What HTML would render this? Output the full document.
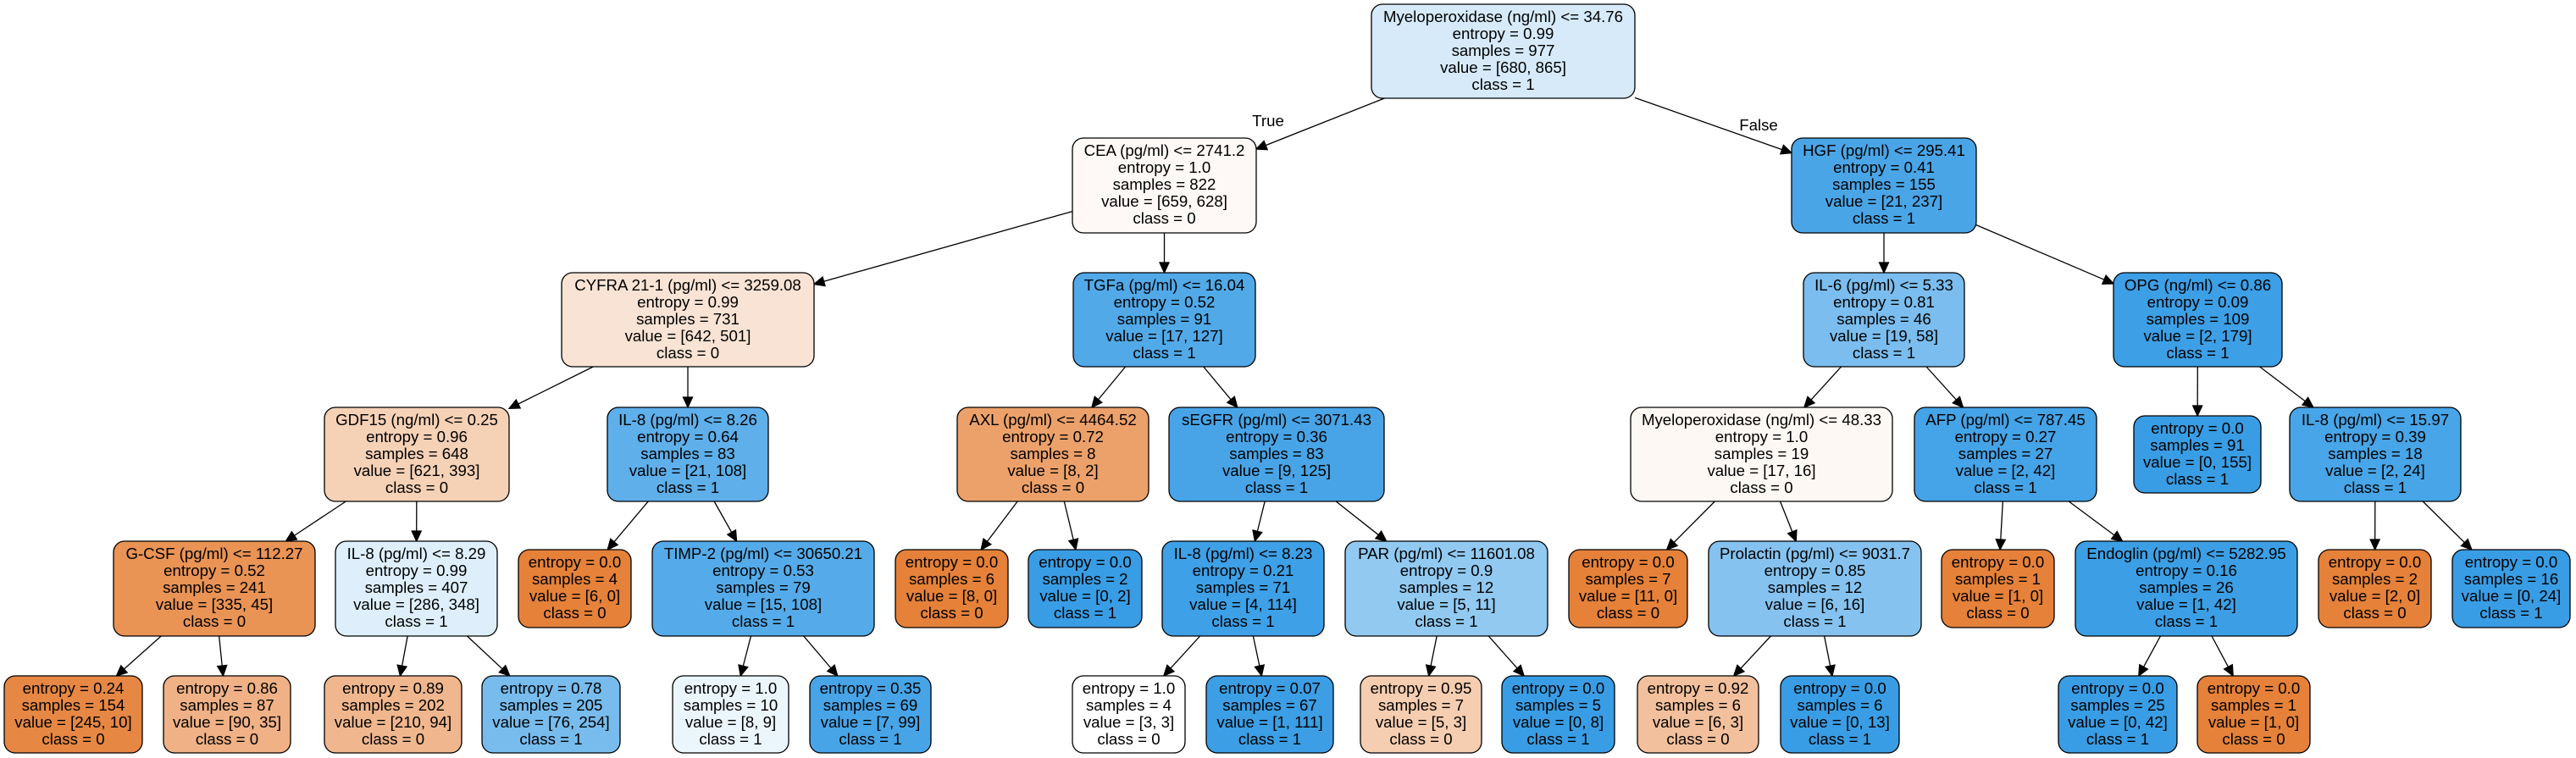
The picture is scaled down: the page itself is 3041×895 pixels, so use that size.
<!DOCTYPE html>
<html><head><meta charset="utf-8"><style>
html,body{margin:0;padding:0;background:#fff;}
svg{display:block;}
text{font-family:"Liberation Sans",Arial,sans-serif;font-size:18.67px;fill:#000;text-anchor:middle;}
rect{stroke:#000;stroke-width:1.3;}
</style></head><body>
<svg id="s" width="3041" height="895" viewBox="0 0 3041 895" xmlns="http://www.w3.org/2000/svg">
<g id="edges" stroke="#000" stroke-width="1.3" fill="#000"></g>
<g id="nodes"></g>
<text x="1497" y="149">True</text>
<text x="2076" y="154">False</text>
</svg>
<script>
var N=[
[1619,1930,5,116,"#d6eaf9",["Myeloperoxidase (ng/ml) <= 34.76","entropy = 0.99","samples = 977","value = [680, 865]","class = 1"],-1],
[1266,1483,163,275,"#fef9f6",["CEA (pg/ml) <= 2741.2","entropy = 1.0","samples = 822","value = [659, 628]","class = 0"],0],
[2115,2333,163,275,"#4aa5e7",["HGF (pg/ml) <= 295.41","entropy = 0.41","samples = 155","value = [21, 237]","class = 1"],0],
[663,961,322,433,"#f8e3d4",["CYFRA 21-1 (pg/ml) <= 3259.08","entropy = 0.99","samples = 731","value = [642, 501]","class = 0"],1],
[1267,1482,322,433,"#51a9e8",["TGFa (pg/ml) <= 16.04","entropy = 0.52","samples = 91","value = [17, 127]","class = 1"],1],
[2129,2319,322,433,"#7bbdee",["IL-6 (pg/ml) <= 5.33","entropy = 0.81","samples = 46","value = [19, 58]","class = 1"],2],
[2495,2694,322,433,"#3d9fe6",["OPG (ng/ml) <= 0.86","entropy = 0.09","samples = 109","value = [2, 179]","class = 1"],2],
[383,601,481,592,"#f5d1b6",["GDF15 (ng/ml) <= 0.25","entropy = 0.96","samples = 648","value = [621, 393]","class = 0"],3],
[717,907,481,592,"#5eafea",["IL-8 (pg/ml) <= 8.26","entropy = 0.64","samples = 83","value = [21, 108]","class = 1"],3],
[1130,1356,481,592,"#eca16b",["AXL (pg/ml) <= 4464.52","entropy = 0.72","samples = 8","value = [8, 2]","class = 0"],4],
[1380,1634,481,592,"#48a4e7",["sEGFR (pg/ml) <= 3071.43","entropy = 0.36","samples = 83","value = [9, 125]","class = 1"],4],
[1925,2234,481,592,"#fdf8f4",["Myeloperoxidase (ng/ml) <= 48.33","entropy = 1.0","samples = 19","value = [17, 16]","class = 0"],5],
[2260,2475,481,592,"#45a3e7",["AFP (pg/ml) <= 787.45","entropy = 0.27","samples = 27","value = [2, 42]","class = 1"],5],
[2519,2669,491,582,"#399de5",["entropy = 0.0","samples = 91","value = [0, 155]","class = 1"],6],
[2703,2905,481,592,"#48a5e7",["IL-8 (pg/ml) <= 15.97","entropy = 0.39","samples = 18","value = [2, 24]","class = 1"],6],
[134,372,639,751,"#e99355",["G-CSF (pg/ml) <= 112.27","entropy = 0.52","samples = 241","value = [335, 45]","class = 0"],7],
[396,587,639,751,"#deeffb",["IL-8 (pg/ml) <= 8.29","entropy = 0.99","samples = 407","value = [286, 348]","class = 1"],7],
[612,745,649,741,"#e58139",["entropy = 0.0","samples = 4","value = [6, 0]","class = 0"],8],
[770,1032,639,751,"#55abe9",["TIMP-2 (pg/ml) <= 30650.21","entropy = 0.53","samples = 79","value = [15, 108]","class = 1"],8],
[1057,1190,649,741,"#e58139",["entropy = 0.0","samples = 6","value = [8, 0]","class = 0"],9],
[1214,1348,649,741,"#399de5",["entropy = 0.0","samples = 2","value = [0, 2]","class = 1"],9],
[1372,1563,639,751,"#3ea0e6",["IL-8 (pg/ml) <= 8.23","entropy = 0.21","samples = 71","value = [4, 114]","class = 1"],10],
[1588,1827,639,751,"#91c9f1",["PAR (pg/ml) <= 11601.08","entropy = 0.9","samples = 12","value = [5, 11]","class = 1"],10],
[1852,1992,649,741,"#e58139",["entropy = 0.0","samples = 7","value = [11, 0]","class = 0"],11],
[2017,2268,639,751,"#85c2ef",["Prolactin (pg/ml) <= 9031.7","entropy = 0.85","samples = 12","value = [6, 16]","class = 1"],11],
[2292,2425,649,741,"#e58139",["entropy = 0.0","samples = 1","value = [1, 0]","class = 0"],12],
[2450,2712,639,751,"#3c9fe5",["Endoglin (pg/ml) <= 5282.95","entropy = 0.16","samples = 26","value = [1, 42]","class = 1"],12],
[2737,2870,649,741,"#e58139",["entropy = 0.0","samples = 2","value = [2, 0]","class = 0"],14],
[2895,3034,649,741,"#399de5",["entropy = 0.0","samples = 16","value = [0, 24]","class = 1"],14],
[5,168,798,889,"#e68743",["entropy = 0.24","samples = 154","value = [245, 10]","class = 0"],15],
[193,343,798,889,"#efb185",["entropy = 0.86","samples = 87","value = [90, 35]","class = 0"],15],
[383,545,798,889,"#f0b78e",["entropy = 0.89","samples = 202","value = [210, 94]","class = 0"],16],
[569,732,798,889,"#77bced",["entropy = 0.78","samples = 205","value = [76, 254]","class = 1"],16],
[794,931,798,889,"#ebf5fc",["entropy = 1.0","samples = 10","value = [8, 9]","class = 1"],18],
[956,1099,798,889,"#47a4e7",["entropy = 0.35","samples = 69","value = [7, 99]","class = 1"],18],
[1266,1399,798,889,"#ffffff",["entropy = 1.0","samples = 4","value = [3, 3]","class = 0"],21],
[1424,1574,798,889,"#3c9ee5",["entropy = 0.07","samples = 67","value = [1, 111]","class = 1"],21],
[1606,1749,798,889,"#f5cdb0",["entropy = 0.95","samples = 7","value = [5, 3]","class = 0"],22],
[1773,1906,798,889,"#399de5",["entropy = 0.0","samples = 5","value = [0, 8]","class = 1"],22],
[1933,2076,798,889,"#f2c09c",["entropy = 0.92","samples = 6","value = [6, 3]","class = 0"],24],
[2102,2242,798,889,"#399de5",["entropy = 0.0","samples = 6","value = [0, 13]","class = 1"],24],
[2430,2570,798,889,"#399de5",["entropy = 0.0","samples = 25","value = [0, 42]","class = 1"],26],
[2594,2727,798,889,"#e58139",["entropy = 0.0","samples = 1","value = [1, 0]","class = 0"],26]
];
var NS="http://www.w3.org/2000/svg";
var gn=document.getElementById("nodes"),ge=document.getElementById("edges");
function el(t,a,p){var e=document.createElementNS(NS,t);for(var k in a)e.setAttribute(k,a[k]);p.appendChild(e);return e;}
N.forEach(function(n){
  el("rect",{x:n[0],y:n[2],width:n[1]-n[0],height:n[3]-n[2],rx:13,ry:13,fill:n[4]},gn);
  var cx=(n[0]+n[1])/2;
  n[5].forEach(function(s,i){var t=el("text",{x:cx,y:n[2]+21+20*i},gn);t.textContent=s;});
});
function clip(b,dx,dy){ // from center of b along (dx,dy), find exit point
  var hw=(b[1]-b[0])/2,hh=(b[3]-b[2])/2,t=Math.min(dx?hw/Math.abs(dx):1e9,dy?hh/Math.abs(dy):1e9);
  return [(b[0]+b[1])/2+dx*t,(b[2]+b[3])/2+dy*t];
}
N.forEach(function(c){
  if(c[6]<0)return;var p=N[c[6]];
  var pc=[(p[0]+p[1])/2,(p[2]+p[3])/2],cc=[(c[0]+c[1])/2,(c[2]+c[3])/2];
  var dx=cc[0]-pc[0],dy=cc[1]-pc[1];
  var a=clip(p,dx,dy),b=clip(c,-dx,-dy);
  var L=Math.hypot(b[0]-a[0],b[1]-a[1]),ux=(b[0]-a[0])/L,uy=(b[1]-a[1])/L;
  var al=12,aw=5.5,bx=b[0]-ux*al,by=b[1]-uy*al;
  el("line",{x1:a[0],y1:a[1],x2:bx,y2:by},ge);
  el("polygon",{points:b[0]+","+b[1]+" "+(bx-uy*aw)+","+(by+ux*aw)+" "+(bx+uy*aw)+","+(by-ux*aw)},ge);
});
</script>
</body></html>
